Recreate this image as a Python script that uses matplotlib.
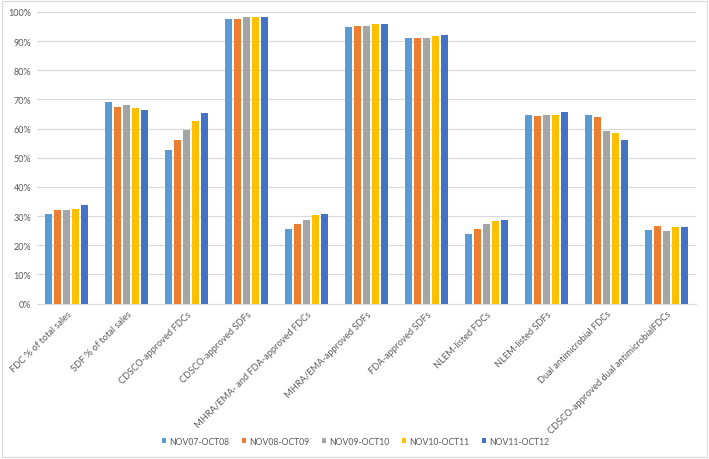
import matplotlib.pyplot as plt
from matplotlib.patches import Rectangle
from matplotlib.ticker import PercentFormatter
import numpy as np

plt.rcParams['font.family'] = ['Lato', 'DejaVu Sans']

categories = [
    "FDC % of total sales",
    "SDF % of total sales",
    "CDSCO-approved FDCs",
    "CDSCO-approved SDFs",
    "MHRA/EMA- and FDA-approved FDCs",
    "MHRA/EMA-approved SDFs",
    "FDA-approved SDFs",
    "NLEM-listed FDCs",
    "NLEM-listed SDFs",
    "Dual antimicrobial FDCs",
    "CDSCO-approved dual antimicrobialFDCs",
]

periods = ["NOV07-OCT08", "NOV08-OCT09", "NOV09-OCT10", "NOV10-OCT11", "NOV11-OCT12"]

nov07_oct08 = [30.6, 69.1, 52.8, 97.7, 25.5, 94.7, 91.1, 23.8, 64.8, 64.6, 25.3]
nov08_oct09 = [32.1, 67.4, 55.9, 97.7, 27.2, 95.0, 90.9, 25.7, 64.3, 63.9, 26.5]
nov09_oct10 = [32.0, 68.0, 59.5, 98.1, 28.8, 95.2, 91.1, 27.1, 64.8, 59.0, 25.0]
nov10_oct11 = [32.5, 67.2, 62.5, 98.1, 30.2, 95.8, 91.9, 28.3, 64.8, 58.3, 26.1]
nov11_oct12 = [33.7, 66.2, 65.4, 98.3, 30.6, 96.0, 92.2, 28.6, 65.5, 55.9, 26.1]

series = [nov07_oct08, nov08_oct09, nov09_oct10, nov10_oct11, nov11_oct12]
colors = ["#5B9BD5", "#ED7D31", "#A5A5A5", "#FFC000", "#4472C4"]

fig = plt.figure(figsize=(7.09, 4.6), dpi=100)
ax = fig.add_axes([0.052, 0.338, 0.930, 0.634])

x = np.arange(len(categories))
step = 0.15
width = 0.12
for i, (vals, col, name) in enumerate(zip(series, colors, periods)):
    ax.bar(x + (i - 2) * step, vals, width, color=col, label=name, zorder=3)

ax.set_xlim(-0.5, len(categories) - 0.5)
ax.set_ylim(0, 100)
ax.set_yticks(np.arange(0, 101, 10))
ax.yaxis.set_major_formatter(PercentFormatter(decimals=0))
ax.grid(axis='y', color='#D9D9D9', linewidth=0.8, zorder=0)
for s in ['top', 'right', 'left']:
    ax.spines[s].set_visible(False)
ax.spines['bottom'].set_color('#D9D9D9')
ax.tick_params(axis='both', length=0, labelsize=6.5, colors='#595959')
ax.tick_params(axis='y', pad=4)
ax.set_xticks(x)
ax.set_xticklabels(categories, rotation=45, ha='right', rotation_mode='anchor', fontsize=6.7)
ax.tick_params(axis='x', pad=4)

ax.legend(loc='center', bbox_to_anchor=(0.502, 0.039), bbox_transform=fig.transFigure,
          ncol=5, frameon=False, fontsize=6.2, handlelength=0.45, handleheight=0.45,
          columnspacing=1.5, handletextpad=0.35, labelcolor='#595959')

fig.patches.append(Rectangle((0.003, 0.005), 0.994, 0.99, transform=fig.transFigure,
                             fill=False, edgecolor='#D9D9D9', linewidth=0.8))

fig.savefig("out.png", dpi=100)
